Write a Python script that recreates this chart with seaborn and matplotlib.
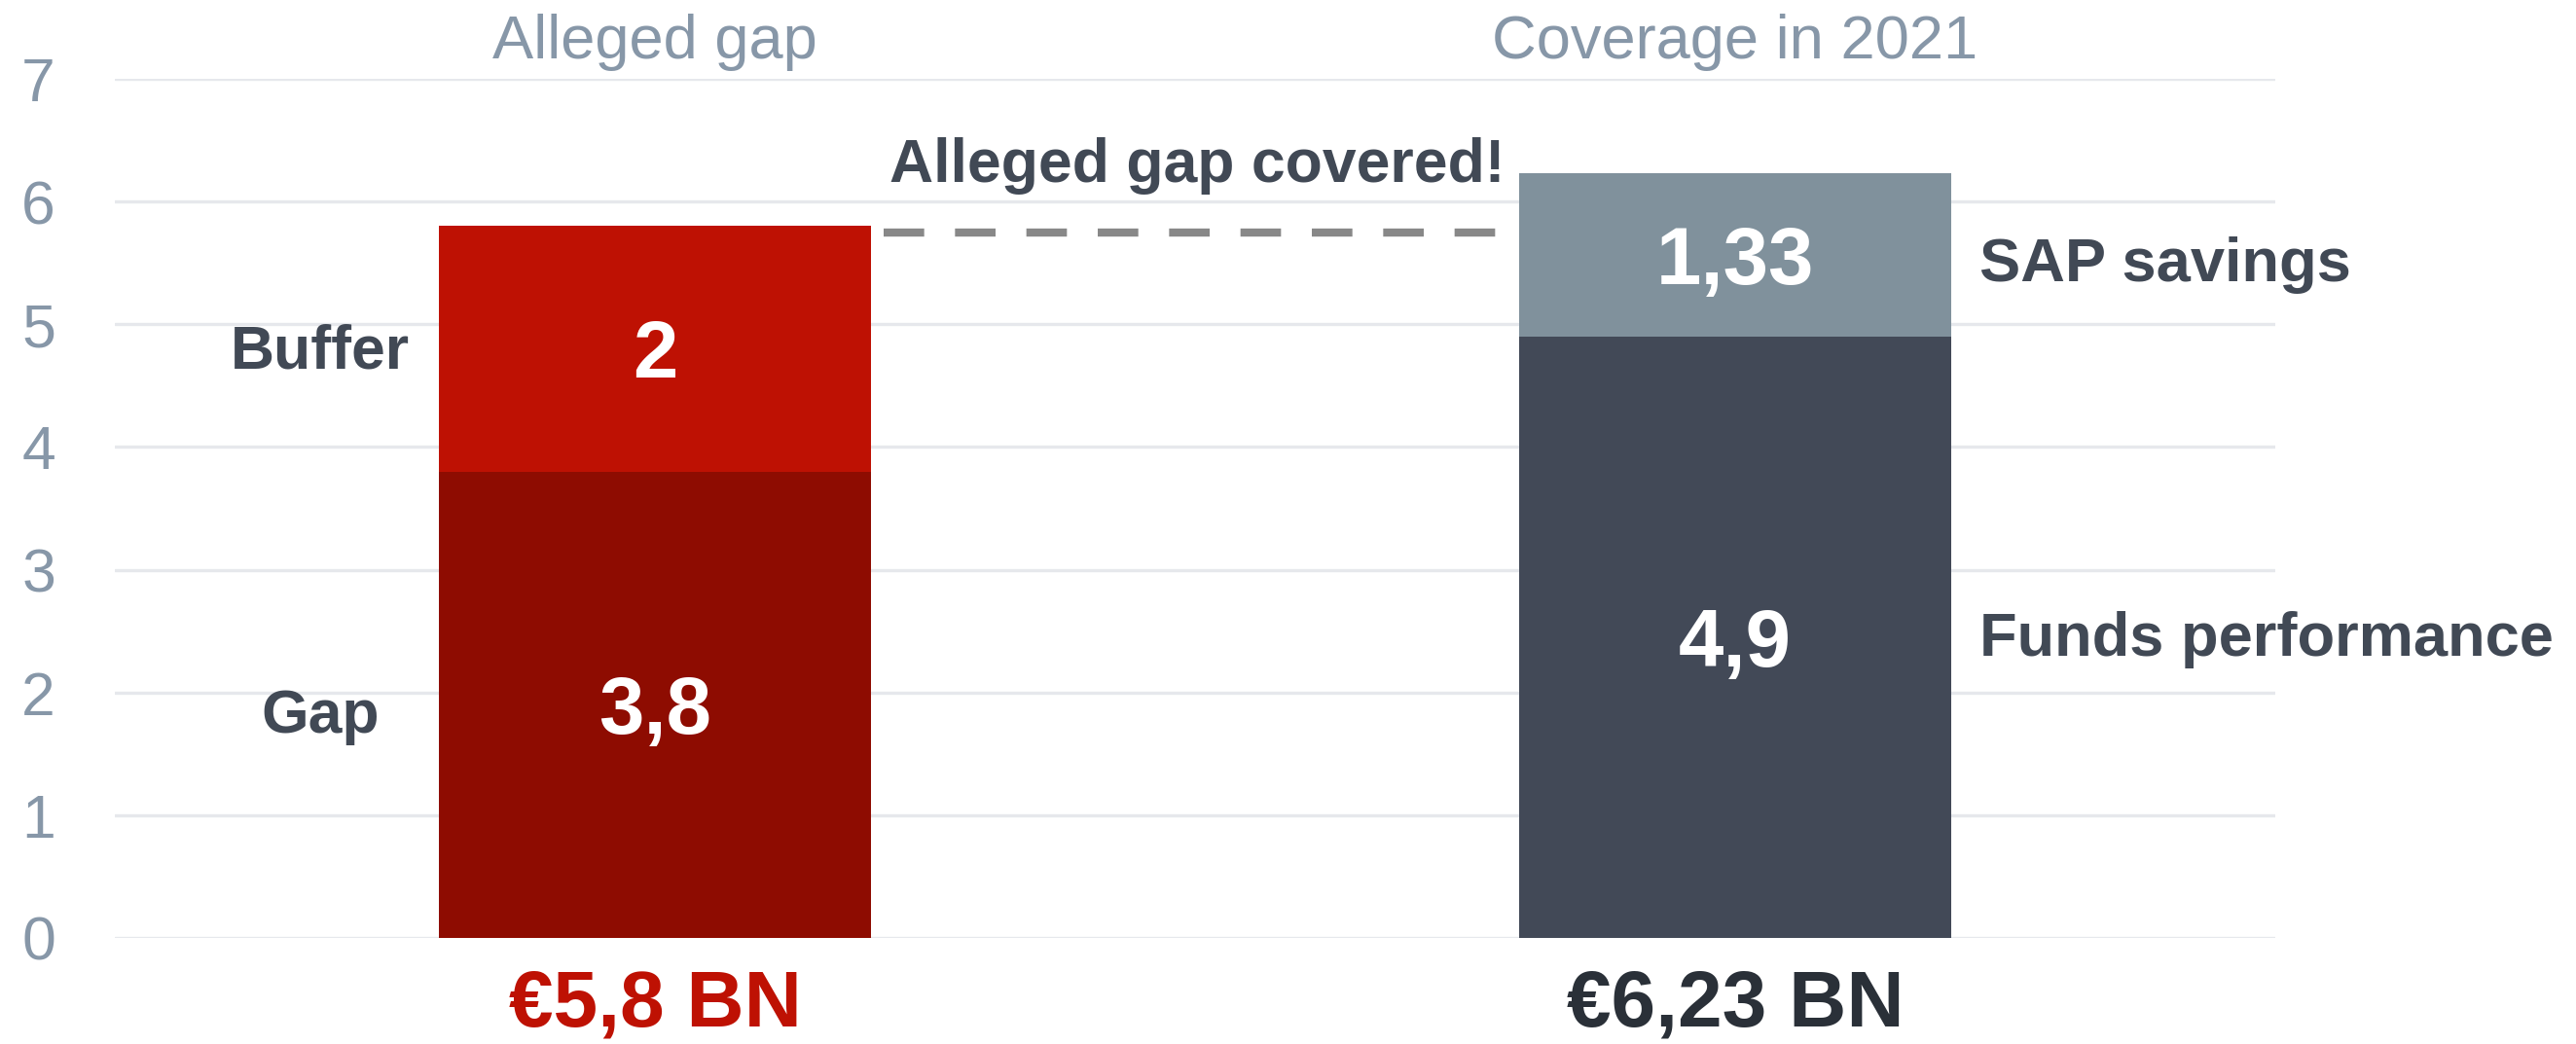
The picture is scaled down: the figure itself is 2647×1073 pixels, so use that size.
import matplotlib
matplotlib.use("Agg")
import matplotlib.pyplot as plt
import seaborn as sns
import pandas as pd

sns.set_style("white")
plt.rcParams['font.family'] = ['Liberation Sans', 'DejaVu Sans']

# data
categories = ["Alleged gap", "Coverage in 2021"]
bottom_vals = [3.8, 4.9]
top_vals = [2, 1.33]
bottom_names = ["Gap", "Funds performance"]
top_names = ["Buffer", "SAP savings"]
covered_level = 5.75
yticks = [0, 1, 2, 3, 4, 5, 6, 7]

totals = [round(b + t, 2) for b, t in zip(bottom_vals, top_vals)]
df = pd.DataFrame({"cat": categories, "bottom": bottom_vals, "top": top_vals, "total": totals})

top_colors = ["#BE1103", "#80919C"]
bottom_colors = ["#8E0C01", "#424957"]
total_colors = ["#BE1103", "#2A3038"]
tick_col = "#8797A8"
text_col = "#414955"

fig = plt.figure(figsize=(26.47, 10.73), dpi=100)
ax = fig.add_axes([0.0446, 0.1016, 0.8387, 0.8229])

ax.set_axisbelow(True)
for v in yticks:
    ax.axhline(v, color="#E6E8EC", lw=2.4, zorder=0)

sns.barplot(data=df, x="cat", y="total", hue="cat", palette=top_colors,
            width=0.4, legend=False, ax=ax, saturation=1, linewidth=0, zorder=2)
sns.barplot(data=df, x="cat", y="bottom", hue="cat", palette=bottom_colors,
            width=0.4, legend=False, ax=ax, saturation=1, linewidth=0, zorder=3)

ax.set_xlim(-0.5, 1.5)
ax.set_ylim(0, 7)
ax.set_yticks(yticks)
ax.set_yticklabels([str(v) for v in yticks])
ax.tick_params(axis="y", length=0, pad=44, labelsize=45, labelcolor=tick_col)
ax.set_xticks([])
ax.set_xlabel("")
ax.set_ylabel("")
for s in ax.spines.values():
    s.set_visible(False)

def fmt(v):
    return f"{v:g}".replace(".", ",")

dy = 0.06  # small nudge so glyphs sit where the reference has them
for i in range(len(categories)):
    b, t = bottom_vals[i], top_vals[i]
    ax.text(i, b / 2 - dy, fmt(b), ha="center", va="center", color="white",
            fontsize=60, fontweight="bold", zorder=5)
    ax.text(i, b + t / 2 - dy, fmt(t), ha="center", va="center", color="white",
            fontsize=60, fontweight="bold", zorder=5)
    ax.text(i, 7.30, categories[i], ha="center", va="center", color=tick_col,
            fontsize=45.5, clip_on=False)
    ax.text(i, -0.55, "€" + fmt(totals[i]) + " BN", ha="center", va="center",
            color=total_colors[i], fontsize=59, fontweight="bold", clip_on=False)

# side labels
ax.text(-0.31, bottom_vals[0] + top_vals[0] / 2 - 0.03, top_names[0], ha="center", va="center",
        color=text_col, fontsize=45, fontweight="bold")
ax.text(-0.31, bottom_vals[0] / 2 - 0.1, bottom_names[0], ha="center", va="center",
        color=text_col, fontsize=45, fontweight="bold")
ax.text(1.226, bottom_vals[1] + top_vals[1] / 2 - 0.08, top_names[1], ha="left", va="center",
        color=text_col, fontsize=45.5, fontweight="bold", clip_on=False)
ax.text(1.226, bottom_vals[1] / 2 - 0.02, bottom_names[1], ha="left", va="center",
        color=text_col, fontsize=45.5, fontweight="bold", clip_on=False)

# dashed connector
ax.plot([0.212, 0.79], [covered_level, covered_level], color="#888888", lw=6,
        linestyle=(0, (5, 3.8)), zorder=4)
ax.text(0.502, 6.29, "Alleged gap covered!", ha="center", va="center",
        color=text_col, fontsize=45, fontweight="bold")

fig.savefig("out.png", dpi=100)
